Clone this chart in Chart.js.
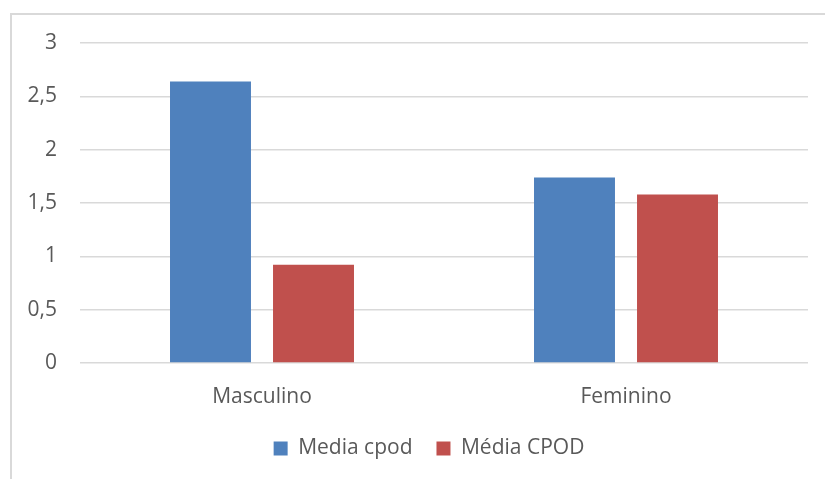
<!DOCTYPE html>
<html>
<head>
<meta charset="utf-8">
<script src="https://cdn.jsdelivr.net/npm/chart.js@4/dist/chart.umd.min.js"></script>
<style>
  html, body { margin: 0; padding: 0; background: #fff; }
  #wrap { position: relative; width: 825px; height: 479px; overflow: hidden; }
  #frame { position: absolute; left: 10px; top: 13px; width: 900px; height: 600px; border-left: 2px solid #D9D9D9; border-top: 2px solid #D9D9D9; box-sizing: border-box; }
  canvas { position: absolute; left: 0; top: 0; }
</style>
</head>
<body>
<div id="wrap">
  <div id="frame"></div>
  <canvas id="c" width="825" height="479"></canvas>
</div>
<script>
const categories = ['Masculino', 'Feminino'];
const seriesNames = ['Media cpod', 'Média CPOD'];
const mediaCpod = [2.64, 1.74];
const mediaCPOD = [0.92, 1.58];
const yTickLabels = ['0', '0,5', '1', '1,5', '2', '2,5', '3'];

const textColor = '#595959';
const fontFamily = "'Open Sans', 'Liberation Sans', sans-serif";

const legendShift = {
  id: 'legendShift',
  afterLayout(chart) {
    if (chart.legend) {
      chart.legend.left += 20;
      chart.legend.right += 20;
    }
  }
};

new Chart(document.getElementById('c'), {
  type: 'bar',
  data: {
    labels: categories,
    datasets: [
      { label: seriesNames[0], data: mediaCpod, backgroundColor: '#4F81BD', borderWidth: 0 },
      { label: seriesNames[1], data: mediaCPOD, backgroundColor: '#C0504D', borderWidth: 0 }
    ]
  },
  plugins: [legendShift],
  options: {
    responsive: false,
    animation: false,
    devicePixelRatio: 1,
    layout: { padding: { left: 10, top: 43, right: 17, bottom: 10 } },
    datasets: { bar: { categoryPercentage: 0.566, barPercentage: 0.786 } },
    plugins: {
      tooltip: { enabled: false },
      legend: {
        position: 'bottom',
        labels: {
          color: textColor,
          font: { family: fontFamily, size: 21 },
          boxWidth: 14,
          boxHeight: 14,
          padding: 24
        }
      }
    },
    scales: {
      x: {
        grid: { display: false, drawTicks: false },
        border: { display: false },
        ticks: { color: textColor, font: { family: fontFamily, size: 21 }, padding: 21 },
        afterFit: (s) => { s.height = 51; }
      },
      y: {
        min: 0,
        max: 3,
        grid: { color: '#D9D9D9', lineWidth: 1.5, drawTicks: false },
        border: { display: false },
        ticks: {
          stepSize: 0.5,
          color: textColor,
          font: { family: fontFamily, size: 21 },
          padding: 23,
          callback: (v, i) => yTickLabels[i]
        },
        afterFit: (s) => { s.width = 70; }
      }
    }
  }
});
</script>
</body>
</html>
